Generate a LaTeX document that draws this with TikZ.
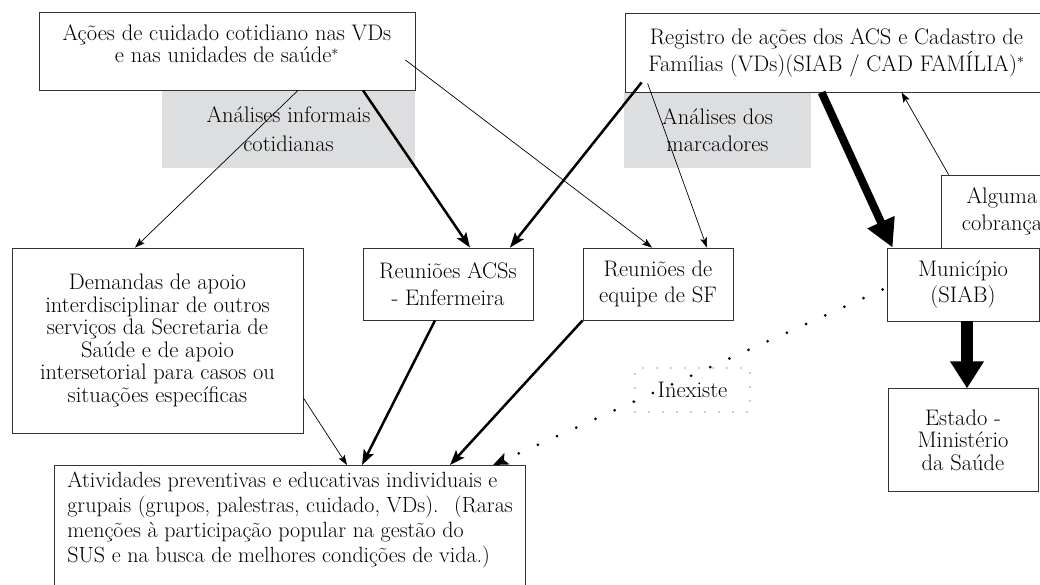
\documentclass[tikz,border=0pt]{standalone}
\usetikzlibrary{arrows.meta, positioning}
\definecolor{analysisgray}{RGB}{221,222,224}

\begin{document}
\begin{tikzpicture}
  [
  x = 1pt, y = -1pt,
  every node/.style={font=\fontsize{22.5}{22.5}\selectfont, inner sep=0pt},
  box/.style={draw=black!80, line width=0.8pt, rectangle, align=center},
  analysis/.style={fill=analysisgray, align=center},
  gap box/.style={draw=black!80, line width=1.1pt, line cap=round, dash pattern=on 0pt off 14pt, align=center},
  thin arrow/.style={-{Stealth[length=10pt, width=7pt, inset=2pt]}, line width=0.7pt},
  thick arrow/.style={-{Stealth[length=15pt, width=11pt, inset=3pt]}, line width=2.5pt},
  heavy arrow/.style={-{Triangle[length=28pt, width=28pt]}, line width=8pt},
  heavier arrow/.style={-{Triangle[length=27pt, width=32pt]}, line width=12pt},
  missing/.style={-{Stealth[length=15pt, width=12pt, inset=3pt]}, line width=3pt, line cap=round, dash pattern=on 0pt off 21pt}
  ]
  \useasboundingbox (0,0) rectangle (1040,584);
  \clip (0,0) rectangle (1040,584);

  % analyses (grey, behind)
  \node[analysis, minimum width=253pt, minimum height=78pt] (informais)  at (288.5,129) {An\'alises informais\\[7pt] cotidianas};
  \node[analysis, minimum width=187pt, minimum height=76pt] (marcadores) at (717.5,130) {An\'alises dos\\[4pt] marcadores};

  % sources
  \node[box, minimum width=376pt, minimum height=78pt] (acoes)    at (227,51)     {Ações de cuidado cotidiano nas VDs\\ e nas unidades de saúde${}^{*}$\\[-8pt]\mbox{}};
  \node[box, minimum width=423pt, minimum height=79pt] (registro) at (836.5,52.5) {Registro de ações dos ACS e Cadastro de\\[1pt] Famílias (VDs)(SIAB / CAD FAMÍLIA)${}^{*}$};

  % middle row
  \node[box, minimum width=291pt, minimum height=185pt] (demandas) at (157.5,340.5)
    {Demandas de apoio\\ interdisciplinar de outros\\ serviços da Secretaria de\\ Saúde e de apoio\\ intersetorial para casos ou\\ situações específicas};
  \node[box, minimum width=170pt, minimum height=72pt] (acss)      at (448,284)    {Reuniões ACSs\\[4pt] - Enfermeira};
  \node[box, minimum width=150pt, minimum height=72pt] (equipe)    at (658,284)    {Reuniões de\\[4pt] equipe de SF};
  \node[box, minimum width=122pt, minimum height=73pt] (alguma)    at (1002,211.5) {Alguma\\[4pt] cobrança};
  \node[box, minimum width=152pt, minimum height=73pt] (municipio) at (963,284.5)  {Município\\[4pt] (SIAB)};
  \node[box, minimum width=150pt, minimum height=103pt] (estado) [below=67pt of municipio] {Estado -\\ Ministério\\ da Saúde};

  \node[gap box, minimum width=115pt, minimum height=44pt] (inexiste) at (692.5,390) {Inexiste};

  % target
  \node[box, align=left, font=\fontsize{22}{25}\selectfont, inner xsep=13pt, inner ysep=7pt, anchor=north west] (atividades) at (54,465)
    {Atividades preventivas e educativas individuais e\\
     grupais (grupos, palestras, cuidado, VDs).~ (Raras\\
     menções à participação popular na gestão do\\
     SUS e na busca de melhores condições de vida.)\\[-8pt]\mbox{}};

  % connectors
  \draw[thin arrow]  ([xshift=71pt]acoes.south)               -- ([xshift=-22.5pt]demandas.north);
  \draw[thick arrow] ([xshift=136pt]acoes.south)              -- ([xshift=22pt]acss.north);
  \draw[thin arrow]  ([shift={(-10pt,-9pt)}]acoes.east)       -- ([xshift=-6pt]equipe.north);
  \draw[thick arrow] ([shift={(17pt,10pt)}]registro.south west) -- ([xshift=62pt]acss.north);
  \draw[thin arrow]  ([shift={(23pt,9pt)}]registro.south west)  -- ([xshift=49pt]equipe.north);
  \draw[heavy arrow] ([xshift=197pt]registro.south west)      -- ([xshift=6pt]municipio.north west);
  \draw[thin arrow]  ([xshift=8pt]alguma.north west)          -- ([xshift=277pt]registro.south west);
  \draw[heavier arrow] ([xshift=4pt]municipio.south)          -- ([xshift=4pt]estado.north);

  \draw[thin arrow]  ([yshift=-57.5pt]demandas.east)          -- ([xshift=293pt]atividades.north west);
  \draw[thick arrow] ([xshift=-13pt]acss.south)               -- ([xshift=308pt]atividades.north west);
  \draw[thick arrow] (equipe.south west)                      -- ([xshift=396pt]atividades.north west);
  \draw[missing]     ([shift={(-4pt,-5pt)}]municipio.west)    -- ([xshift=439pt]atividades.north west);
\end{tikzpicture}
\end{document}
